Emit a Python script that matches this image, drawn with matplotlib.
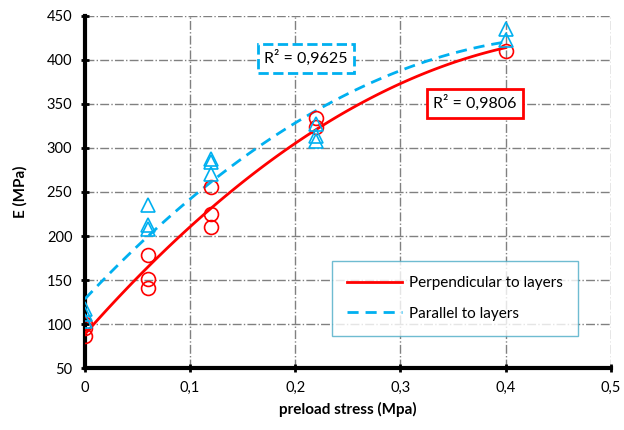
import numpy as np
import matplotlib.pyplot as plt
from matplotlib.ticker import FuncFormatter

RED = '#FF0000'
BLUE = '#00B0F0'

# preload stress (MPa) and measured E (MPa)
x_perp = [0, 0, 0, 0.06, 0.06, 0.06, 0.12, 0.12, 0.12, 0.22, 0.22, 0.4]
E_perp = [87, 95, 100, 178, 151, 141, 256, 225, 210, 334, 324, 410]

x_par = [0, 0, 0, 0.06, 0.06, 0.06, 0.12, 0.12, 0.12, 0.22, 0.22, 0.22, 0.4, 0.4]
E_par = [104, 111, 117, 235, 212, 208, 288, 284, 271, 327, 314, 308, 435, 423]

r2_perp = "R² = 0,9806"
r2_par = "R² = 0,9625"

plt.rcParams['font.family'] = ['Lato', 'DejaVu Sans']
fig = plt.figure(figsize=(6.24, 4.30), dpi=100)
ax = fig.add_axes([0.136, 0.144, 0.843, 0.819])

# second order trendlines, as in the spreadsheet
xs = np.linspace(0, 0.4, 100)
p_perp = np.polyfit(x_perp, E_perp, 2)
p_par = np.polyfit(x_par, E_par, 2)

ax.plot(x_perp, E_perp, 'o', ms=10, mfc='none', mec=RED, mew=1.2, zorder=4)
ax.plot(x_par, E_par, '^', ms=10, mfc='none', mec=BLUE, mew=1.2, zorder=4)
ax.plot(xs, np.polyval(p_perp, xs), color=RED, lw=2, label='Perpendicular to layers', zorder=3)
ax.plot(xs, np.polyval(p_par, xs), color=BLUE, lw=2, ls=(0, (4, 2.5)), label='Parallel to layers', zorder=3)

ax.set_xlim(0, 0.5)
ax.set_ylim(50, 450)
ax.set_xticks(np.arange(0, 0.51, 0.1))
ax.set_yticks(np.arange(50, 451, 50))
ax.xaxis.set_major_formatter(FuncFormatter(lambda v, p: ('%g' % round(v, 1)).replace('.', ',')))
ax.grid(True, color='#808080', ls='-.', lw=1)
ax.set_axisbelow(True)

for s in ['top', 'right']:
    ax.spines[s].set_visible(False)
for s in ['left', 'bottom']:
    ax.spines[s].set_linewidth(3)
ax.tick_params(direction='inout', length=6, width=2, labelsize=10.5, pad=6)

ax.set_xlabel('preload stress (Mpa)', fontsize=11, fontweight='bold', labelpad=5)
ax.set_ylabel('E (MPa)', fontsize=11, fontweight='bold', labelpad=14)

ax.text(0.21, 402, r2_par, fontsize=11.5, ha='center', va='center',
        bbox=dict(boxstyle='square,pad=0.4', fc='white', ec=BLUE, lw=2, ls='--'))
ax.text(0.371, 351, r2_perp, fontsize=11.5, ha='center', va='center',
        bbox=dict(boxstyle='square,pad=0.4', fc='white', ec=RED, lw=2))

leg = ax.legend(loc='lower right', bbox_to_anchor=(0.937, 0.091), borderaxespad=0,
                fontsize=11, frameon=True, fancybox=False, handlelength=3.6,
                borderpad=1.0, labelspacing=1.1, handletextpad=0.4)
leg.get_frame().set_edgecolor('#4BACC6')
leg.get_frame().set_linewidth(1)

fig.savefig('out.png', dpi=100)
